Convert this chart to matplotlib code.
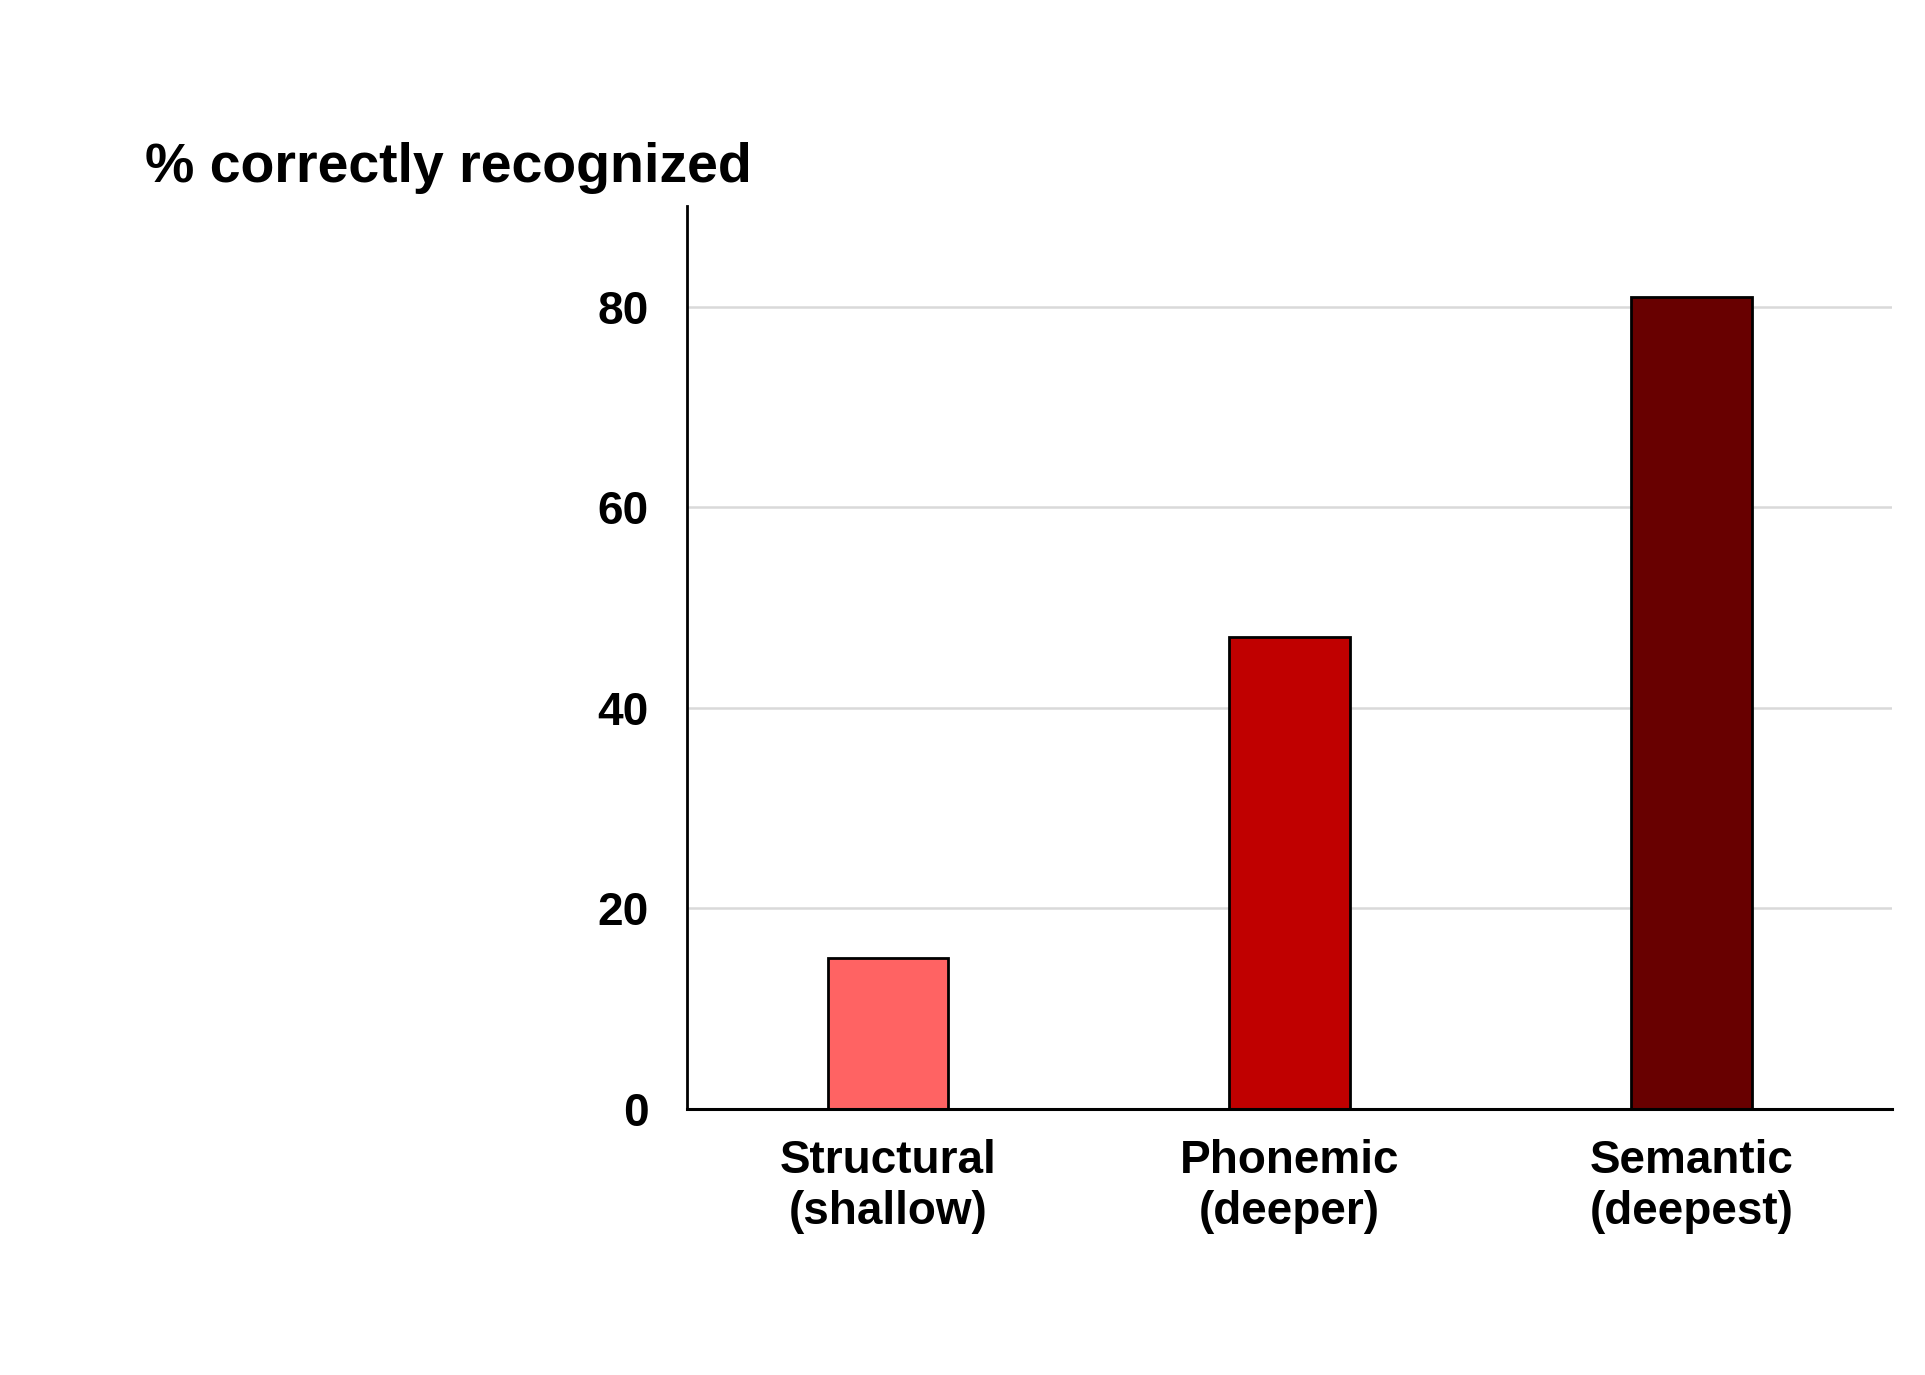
import matplotlib
matplotlib.use("Agg")
import matplotlib.pyplot as plt

categories = ["Structural\n(shallow)", "Phonemic\n(deeper)", "Semantic\n(deepest)"]
values = [15, 47, 81]
colors = ["#FF6363", "#C00000", "#680000"]
yticks = [0, 20, 40, 60, 80]
title = "% correctly recognized"

plt.rcParams['font.family'] = ['Liberation Sans', 'DejaVu Sans']
plt.rcParams['font.weight'] = 'bold'

fig = plt.figure(figsize=(19.25, 13.75), dpi=100)
ax = fig.add_axes([0.357, 0.1936, 0.626, 0.6564])

x = list(range(len(categories)))
ax.bar(x, values, width=0.3, color=colors, edgecolor="black", linewidth=2, zorder=3)

ax.set_xlim(-0.5, 2.5)
ax.set_ylim(0, 90)
ax.set_yticks(yticks)
ax.set_yticklabels([str(t) for t in yticks], fontsize=33, fontweight='bold')
ax.set_xticks(x)
ax.set_xticklabels(categories, fontsize=33, fontweight='bold', linespacing=1.2)
ax.tick_params(axis='both', length=0)
ax.tick_params(axis='y', pad=28)
ax.tick_params(axis='x', pad=22)

for t in yticks[1:]:
    ax.axhline(t, color="#D9D9D9", linewidth=1.8, zorder=1)

for s in ["top", "right"]:
    ax.spines[s].set_visible(False)
ax.spines["left"].set_linewidth(2)
ax.spines["bottom"].set_linewidth(2.2)
ax.spines["left"].set_zorder(4)
ax.spines["bottom"].set_zorder(4)

fig.text(0.0754, 0.868, title, fontsize=40, fontweight='bold', ha='left', va='baseline')

fig.savefig("out.png", dpi=100, facecolor="white")
